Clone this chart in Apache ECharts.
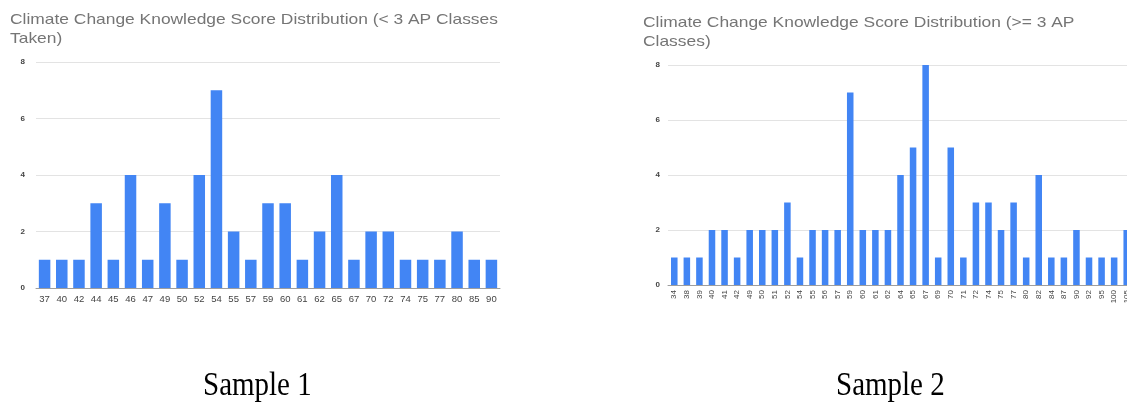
<!DOCTYPE html>
<html><head><meta charset="utf-8">
<script src="https://cdn.jsdelivr.net/npm/echarts@6/dist/echarts.min.js"></script>
<style>html,body{margin:0;padding:0;background:#fff;overflow:hidden}#c{width:1136px;height:402px}</style>
</head><body><div id="c"></div>
<script>
const titles = ["Climate Change Knowledge Score Distribution (< 3 AP Classes\nTaken)",
                "Climate Change Knowledge Score Distribution (>= 3 AP\nClasses)"];
const captions = ["Sample 1", "Sample 2"];
const cats1 = ["37","40","42","44","45","46","47","49","50","52","54","55","57","59","60","61","62","65","67","70","72","74","75","77","80","85","90"];
const vals1 = [1,1,1,3,1,4,1,3,1,4,7,2,1,3,3,1,2,4,1,2,2,1,1,1,2,1,1];
const cats2 = ["34","38","39","40","41","42","49","50","51","52","54","55","56","57","59","60","61","62","64","65","67","69","70","71","72","74","75","77","80","82","84","87","90","92","95","100","105"];
const vals2 = [1,1,1,2,2,1,2,2,2,3,1,2,2,2,7,2,2,2,4,5,8,1,5,1,3,3,2,3,1,4,1,1,2,1,1,1,2];
const yTicks = {min:0, max:8, interval:2};

const chart = echarts.init(document.getElementById('c'), null, {renderer:'canvas'});
const blue = '#4285f4';
function yAx(i, margin){
  return {gridIndex:i, type:'value', min:yTicks.min, max:yTicks.max, interval:yTicks.interval,
    axisLine:{show:false}, axisTick:{show:false},
    axisLabel:{fontSize:8, fontWeight:'bold', color:'#444', margin:margin, fontFamily:'Liberation Sans, Arial'},
    splitLine:{lineStyle:{color:'#e3e3e3', width:1}}};
}
function titleText(t, x, y){
  return {type:'text', x:x, y:y, scaleX:1.16, silent:true,
    style:{text:t, font:'15px "Liberation Sans", Arial, sans-serif', fill:'#757575', lineHeight:18.5, verticalAlign:'top'}};
}
function captionText(t, x){
  return {type:'text', x:x, y:386, scaleY:1.18, silent:true,
    style:{text:t, font:'29px "Liberation Serif", "Times New Roman", serif', fill:'#000', verticalAlign:'middle'}};
}
chart.setOption({
  animation:false,
  grid:[
    {left:36, top:62, width:464, height:226},
    {left:668, top:65, width:465, height:220}
  ],
  xAxis:[
    {gridIndex:0, type:'category', data:cats1,
     axisLine:{lineStyle:{color:'#9e9e9e'}}, axisTick:{show:false},
     axisLabel:{interval:0, fontSize:9.5, color:'#444', margin:6, fontFamily:'Liberation Sans, Arial'}},
    {gridIndex:1, type:'category', data:cats2,
     axisLine:{lineStyle:{color:'#9e9e9e'}}, axisTick:{show:false},
     axisLabel:{interval:0, rotate:90, fontSize:8, color:'#444', margin:5, fontFamily:'Liberation Sans, Arial'}}
  ],
  yAxis:[yAx(0,11), yAx(1,8)],
  series:[
    {type:'bar', xAxisIndex:0, yAxisIndex:0, data:vals1, itemStyle:{color:blue}, barCategoryGap:'33%'},
    {type:'bar', xAxisIndex:1, yAxisIndex:1, data:vals2, itemStyle:{color:blue}, barCategoryGap:'48%'}
  ],
  graphic:[
    titleText(titles[0], 10, 11),
    titleText(titles[1], 643, 14),
    captionText(captions[0], 203),
    captionText(captions[1], 836)
  ]
});
</script></body></html>
